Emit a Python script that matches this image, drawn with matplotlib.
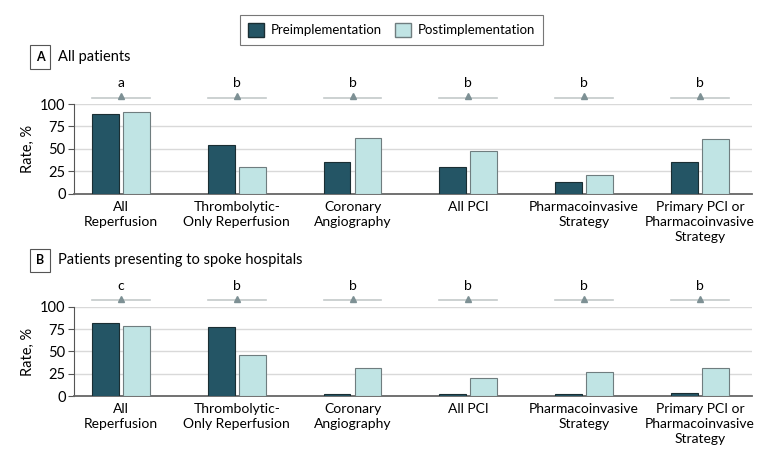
import numpy as np
import matplotlib
matplotlib.use("Agg")
import matplotlib.pyplot as plt
from matplotlib.patches import Patch

plt.rcParams['font.family'] = ['Lato', 'DejaVu Sans']

###############################
### data

categories = ['All\nReperfusion', 'Thrombolytic-\nOnly Reperfusion', 'Coronary\nAngiography',
              'All PCI', 'Pharmacoinvasive\nStrategy', 'Primary PCI or\nPharmacoinvasive\nStrategy']

pre_all = [89, 54, 35, 30, 13, 35]
post_all = [91, 29.5, 62, 47.5, 20.5, 61]
sig_all = ['a', 'b', 'b', 'b', 'b', 'b']

pre_spoke = [81.5, 77, 3, 2.5, 2.2, 3.5]
post_spoke = [78, 46, 31.5, 20, 27.5, 31.5]
sig_spoke = ['c', 'b', 'b', 'b', 'b', 'b']

DARK = '#245565'
LIGHT = '#c0e4e4'

###############################
### figure

fig = plt.figure(figsize=(7.83, 4.59), dpi=100)
ax_a = fig.add_axes([0.0945, 0.578, 0.866, 0.1954])
ax_b = fig.add_axes([0.0945, 0.1366, 0.866, 0.1954])

x = np.arange(len(categories))
w = 0.232
off = 0.134


def panel(ax, pre, post, sig):
	ax.bar(x - off, pre, w, color=DARK, edgecolor='#1a2e33', linewidth=0.8, zorder=3)
	ax.bar(x + off, post, w, color=LIGHT, edgecolor='#6f7d7f', linewidth=0.8, zorder=3)
	ax.set_ylim(0, 100)
	ax.set_xlim(-0.405, 5.45)
	ax.set_yticks([0, 25, 50, 75, 100])
	ax.yaxis.grid(True, color='#d9d9d9', linewidth=1, zorder=0)
	ax.set_axisbelow(True)
	for s in ['top', 'right']:
		ax.spines[s].set_visible(False)
	ax.spines['left'].set_color('#555555')
	ax.spines['bottom'].set_color('#666666')
	ax.spines['bottom'].set_linewidth(1.3)
	ax.tick_params(axis='y', length=4, color='#555555', labelsize=10.5, pad=2)
	ax.tick_params(axis='x', length=0, labelsize=10, pad=5)
	ax.set_xticks(x)
	ax.set_xticklabels(categories, linespacing=1.3)
	ax.set_ylabel('Rate, %', fontsize=10.5, labelpad=4)
	for i, s in enumerate(sig):
		ax.plot([x[i] - 0.25, x[i] + 0.25], [107, 107], color='#c4c9ca', lw=1.2,
			clip_on=False, zorder=4)
		ax.plot(x[i], 109, marker='^', ms=5, color='#7d9094', clip_on=False, zorder=5)
		ax.text(x[i], 123, s, ha='center', va='center', fontsize=10, clip_on=False)


panel(ax_a, pre_all, post_all, sig_all)
panel(ax_b, pre_spoke, post_spoke, sig_spoke)

# panel titles
for y, letter, title in [(0.876, 'A', 'All patients'), (0.4325, 'B', 'Patients presenting to spoke hospitals')]:
	fig.text(0.0511, y, letter, ha='center', va='center', fontsize=9, fontweight='bold',
		bbox=dict(boxstyle='square,pad=0.45', fc='white', ec='#555555', lw=0.8))
	fig.text(0.074, y, title, ha='left', va='center', fontsize=10.5)

handles = [Patch(facecolor=DARK, edgecolor='#1a2e33', label='Preimplementation'),
	Patch(facecolor=LIGHT, edgecolor='#6f7d7f', label='Postimplementation')]
leg = fig.legend(handles=handles, loc='center', bbox_to_anchor=(0.5, 0.935), ncol=2,
	fontsize=9.5, frameon=True, fancybox=False, edgecolor='#555555',
	handlelength=1.2, handleheight=1.2, columnspacing=1.0, handletextpad=0.5, borderpad=0.6)
leg.get_frame().set_linewidth(0.8)

fig.savefig('out.png', dpi=100)
